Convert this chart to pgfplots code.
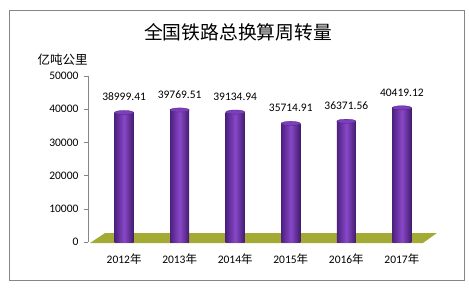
\documentclass[border=0pt]{standalone}
\usepackage{fontspec}
\setmainfont{Carlito}
\newfontfamily\cjk{Noto Sans CJK SC}
\usepackage{pgfplots}
\pgfplotsset{compat=1.18}
\definecolor{cylmid}{HTML}{8848C8}
\definecolor{cyldark}{HTML}{4E2080}
\definecolor{cyltop}{HTML}{7E3EBA}
\definecolor{floorc}{HTML}{A4AB35}
\definecolor{axgray}{HTML}{868686}
\pgfplotsset{cyl/.style={ybar, bar width=19pt, draw=none, left color=cyldark, right color=cyldark!85!black, middle color=cylmid, forget plot}}
\begin{document}
\begin{tikzpicture}[x=1pt,y=1pt]
\useasboundingbox (0,0) rectangle (469,290);
\fill[white] (0,0) rectangle (469,290);
\draw[color=axgray,line width=0.8pt] (9.5,10) rectangle (464,280);
\node[font=\cjk\fontsize{18.8}{21}\selectfont] at (238,258) {全国铁路总换算周转量};
\node[font=\cjk\fontsize{12.5}{14}\selectfont, anchor=west] at (34,230) {亿吨公里};
\begin{axis}[
  at={(88pt,48pt)}, anchor=south west,
  scale only axis, width=350pt, height=166pt,
  xmin=-0.65, xmax=5.65, ymin=0, ymax=50000,
  clip=false,
  axis lines*=left,
  x axis line style={draw=none},
  y axis line style={draw=axgray, line width=0.6pt},
  xtick={0,1,2,3,4,5},
  xticklabels={2012{\cjk 年},2013{\cjk 年},2014{\cjk 年},2015{\cjk 年},2016{\cjk 年},2017{\cjk 年}},
  xtick style={draw=none},
  xticklabel style={font=\fontsize{11.5}{13}\selectfont, yshift=-4pt},
  ytick={0,10000,20000,30000,40000,50000},
  ytick style={draw=axgray, line width=0.6pt},
  tick align=outside,
  major tick length=4pt,
  yticklabel style={font=\fontsize{11.5}{13}\selectfont, xshift=-2pt},
  scaled y ticks=false,
  /pgf/number format/assume math mode=true,
  yticklabel={\pgfmathprintnumber[fixed,1000 sep={}]{\tick}},
]
% floor
\addplot[fill=floorc, draw=none, forget plot] coordinates {(-0.614,-301) (5.38,-301) (5.63,2710) (-0.344,2710) (-0.614,-301)};
% cylinders, one plot each so every bar has its own shading
\addplot[cyl] coordinates {(0,38999.41)};
\addplot[cyl] coordinates {(1,39769.51)};
\addplot[cyl] coordinates {(2,39134.94)};
\addplot[cyl] coordinates {(3,35714.91)};
\addplot[cyl] coordinates {(4,36371.56)};
\addplot[cyl] coordinates {(5,40419.12)};
% top caps with labels
\addplot[only marks, mark=*, mark size=9.5pt, mark options={yscale=0.22, fill=cyltop, draw=cyldark, line width=0.3pt},
  point meta=explicit symbolic,
  nodes near coords,
  every node near coord/.append style={font=\fontsize{11.5}{13}\selectfont, anchor=south, yshift=8pt, black},
  forget plot]
  coordinates {(0,38999.41) [38999.41] (1,39769.51) [39769.51] (2,39134.94) [39134.94] (3,35714.91) [35714.91] (4,36371.56) [36371.56] (5,40419.12) [40419.12]};
\end{axis}
\end{tikzpicture}
\end{document}
